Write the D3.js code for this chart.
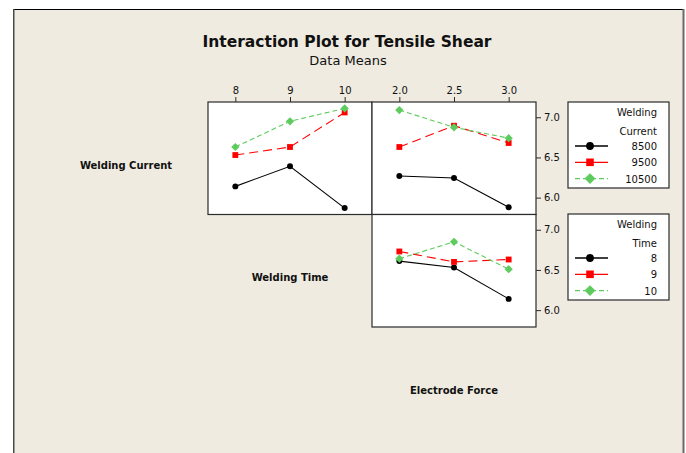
<!DOCTYPE html>
<html>
<head>
<meta charset="utf-8">
<script src="https://cdn.jsdelivr.net/npm/d3@7"></script>
<style>
  html, body { margin: 0; padding: 0; background: #ffffff; }
  svg { display: block; font-family: "DejaVu Sans", Verdana, sans-serif; }
</style>
</head>
<body>
<svg id="chart" width="686" height="453"></svg>
<script>
// Factor levels
const weldingTimeLevels = ["8", "9", "10"];
const electrodeForceLevels = ["2.0", "2.5", "3.0"];
const weldingCurrentLevels = ["8500", "9500", "10500"];
const yTicks = [6.0, 6.5, 7.0];

// Mean tensile shear: rows = Welding Current level, columns = Welding Time level
const meanCurrentByTime = [
  [6.14, 6.39, 5.87],
  [6.53, 6.63, 7.06],
  [6.63, 6.95, 7.11]
];
// Rows = Welding Current level, columns = Electrode Force level
const meanCurrentByForce = [
  [6.27, 6.245, 5.88],
  [6.63, 6.895, 6.68],
  [7.09, 6.875, 6.74]
];
// Rows = Welding Time level, columns = Electrode Force level
const meanTimeByForce = [
  [6.61, 6.53, 6.14],
  [6.73, 6.60, 6.63],
  [6.64, 6.85, 6.51]
];

const svg = d3.select("#chart");
const W = 686, H = 453;

// Series appearance (black solid / red dashed / green dashed)
const seriesStyle = [
  { color: "#000000", dash: null, legendDash: null, shape: d3.symbolCircle, size: 28, rotate: 0 },
  { color: "#ff0000", dash: "9,5", legendDash: null, shape: d3.symbolSquare, size: 34, rotate: 0 },
  { color: "#5ecb5e", dash: "5,3", legendDash: "5,3", shape: d3.symbolSquare, size: 34, rotate: 45 }
];

function marker(g, st, cx, cy, scale) {
  g.append("path").attr("d", d3.symbol().type(st.shape).size(st.size * scale)())
    .attr("transform", `translate(${cx},${cy}) rotate(${st.rotate})`).attr("fill", st.color);
}

// Page frame
svg.append("rect").attr("x", 13.5).attr("y", 9.5).attr("width", 670).attr("height", H)
  .attr("fill", "#efebe0").attr("stroke", "none");
svg.append("line").attr("x1", 13).attr("x2", 684).attr("y1", 9.5).attr("y2", 9.5)
  .attr("stroke", "#000").attr("stroke-width", 1);
svg.append("line").attr("x1", 13.75).attr("x2", 13.75).attr("y1", 9).attr("y2", H)
  .attr("stroke", "#4a4a4a").attr("stroke-width", 1.5);
svg.append("line").attr("x1", 683.5).attr("x2", 683.5).attr("y1", 9).attr("y2", H)
  .attr("stroke", "#6a6a6a").attr("stroke-width", 2);

// Titles
svg.append("text").attr("x", 347).attr("y", 47).attr("text-anchor", "middle")
  .attr("font-weight", "bold").attr("font-size", "15.5px").attr("fill", "#111")
  .text("Interaction Plot for Tensile Shear");
svg.append("text").attr("x", 348).attr("y", 65).attr("text-anchor", "middle")
  .attr("font-size", "13px").attr("fill", "#111")
  .text("Data Means");

// Factor labels on the diagonal
const diagLabels = [
  { text: "Welding Current", x: 126, y: 169 },
  { text: "Welding Time", x: 290, y: 281 },
  { text: "Electrode Force", x: 454, y: 394 }
];
diagLabels.forEach(d => {
  svg.append("text").attr("x", d.x).attr("y", d.y).attr("text-anchor", "middle")
    .attr("font-weight", "bold").attr("font-size", "10px").attr("fill", "#111").text(d.text);
});

// Panel geometry
const colX = [208, 372, 536];
const rowY = [102, 214.5, 327];
const yDomain = [5.79, 7.19];

function drawPanel(col, row, xLevels, values, showTopAxis, showRightAxis) {
  const x0 = colX[col], x1 = colX[col + 1];
  const y0 = rowY[row], y1 = rowY[row + 1];
  const x = d3.scalePoint().domain(xLevels).range([x0, x1]).padding(0.5);
  const y = d3.scaleLinear().domain(yDomain).range([y1, y0]);

  const g = svg.append("g");
  g.append("rect").attr("x", x0).attr("y", y0).attr("width", x1 - x0).attr("height", y1 - y0)
    .attr("fill", "#ffffff").attr("stroke", "none");

  values.forEach((row, i) => {
    const st = seriesStyle[i];
    const pts = row.map((v, j) => [x(xLevels[j]), y(v)]);
    g.append("path").attr("d", d3.line()(pts)).attr("fill", "none")
      .attr("stroke", st.color).attr("stroke-width", 1.1)
      .attr("stroke-dasharray", st.dash);
    pts.forEach(p => marker(g, st, p[0], p[1], 1));
  });

  g.append("rect").attr("x", x0).attr("y", y0).attr("width", x1 - x0).attr("height", y1 - y0)
    .attr("fill", "none").attr("stroke", "#2b2b2b").attr("stroke-width", 1.2);

  if (showTopAxis) {
    const ax = svg.append("g").attr("transform", `translate(0,${y0})`)
      .call(d3.axisTop(x).tickSize(5).tickPadding(3));
    ax.select(".domain").remove();
    ax.selectAll("line").attr("stroke", "#2b2b2b");
    ax.selectAll("text").attr("font-size", "10px").attr("font-family", "DejaVu Sans")
      .attr("fill", "#111");
  }
  if (showRightAxis) {
    const ay = svg.append("g").attr("transform", `translate(${x1},0)`)
      .call(d3.axisRight(y).tickValues(yTicks).tickFormat(d3.format(".1f")).tickSize(5).tickPadding(3));
    ay.select(".domain").remove();
    ay.selectAll("line").attr("stroke", "#2b2b2b");
    ay.selectAll("text").attr("font-size", "10px").attr("font-family", "DejaVu Sans")
      .attr("fill", "#111");
  }
}

drawPanel(0, 0, weldingTimeLevels, meanCurrentByTime, true, false);
drawPanel(1, 0, electrodeForceLevels, meanCurrentByForce, true, true);
drawPanel(1, 1, electrodeForceLevels, meanTimeByForce, false, true);

// Legends
function drawLegend(top, titleLines, levels) {
  const lx0 = 568, lx1 = 669;
  const g = svg.append("g");
  g.append("rect").attr("x", lx0).attr("y", top).attr("width", lx1 - lx0).attr("height", 86)
    .attr("fill", "#ffffff").attr("stroke", "#2b2b2b").attr("stroke-width", 1.2);
  titleLines.forEach((t, i) => {
    g.append("text").attr("x", 657).attr("y", top + 14 + i * 18.5).attr("text-anchor", "end")
      .attr("font-size", "10px").attr("fill", "#111").text(t);
  });
  levels.forEach((lv, i) => {
    const st = seriesStyle[i];
    const cy = top + 44 + i * 16.3;
    g.append("line").attr("x1", 575).attr("x2", 608).attr("y1", cy).attr("y2", cy)
      .attr("stroke", st.color).attr("stroke-width", 1.3).attr("stroke-dasharray", st.legendDash);
    marker(g, st, 590, cy, 1.7);
    g.append("text").attr("x", 657).attr("y", cy + 4).attr("text-anchor", "end")
      .attr("font-size", "10px").attr("fill", "#111").text(lv);
  });
}
drawLegend(102, ["Welding", "Current"], weldingCurrentLevels);
drawLegend(214, ["Welding", "Time"], weldingTimeLevels);
</script>
</body>
</html>
